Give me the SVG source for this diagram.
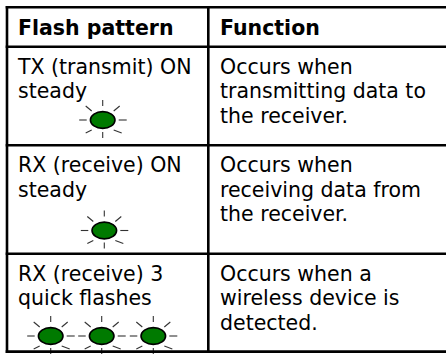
<svg xmlns="http://www.w3.org/2000/svg" xmlns:xlink="http://www.w3.org/1999/xlink" width="446" height="354" viewBox="0 0 446 354">
<style>
  .t { font-family: "DejaVu Sans", sans-serif; font-size: 20.5px; fill: #000; }
  .h { font-weight: bold; }
  .grid { stroke: #000; stroke-width: 2.6; fill: none; }
  .ray { stroke: #333; stroke-width: 1.1; }
  .led { fill: #007a00; stroke: #000; stroke-width: 1.6; }
</style>
<defs>
  <g id="ledsym">
    <line class="ray" x1="-23.5" y1="0" x2="-16" y2="0"/>
    <line class="ray" x1="16" y1="0" x2="24" y2="0"/>
    <line class="ray" x1="0" y1="-20" x2="0" y2="-14"/>
    <line class="ray" x1="0" y1="12" x2="0" y2="18"/>
    <line class="ray" x1="-17" y1="-14" x2="-11" y2="-9"/>
    <line class="ray" x1="11" y1="-9" x2="17" y2="-14"/>
    <line class="ray" x1="-17" y1="13" x2="-11" y2="10"/>
    <line class="ray" x1="11" y1="10" x2="19" y2="13"/>
    <ellipse class="led" cx="0" cy="0" rx="12.3" ry="8.4"/>
  </g>
</defs>
<rect width="446" height="354" fill="#fff"/>
<g id="header">
  <text class="t h" x="18" y="35">Flash pattern</text>
  <text class="t h" x="220" y="35">Function</text>
</g>
<g id="row1">
  <text class="t" x="18" y="73.7">TX (transmit) ON</text>
  <text class="t" x="18" y="98.2">steady</text>
  <use xlink:href="#ledsym" x="102.7" y="120"/>
  <text class="t" x="220" y="73.7">Occurs when</text>
  <text class="t" x="220" y="98.2">transmitting data to</text>
  <text class="t" x="220" y="122.7">the receiver.</text>
</g>
<g id="row2">
  <text class="t" x="18" y="172.3">RX (receive) ON</text>
  <text class="t" x="18" y="196.8">steady</text>
  <use xlink:href="#ledsym" x="104.3" y="230.5"/>
  <text class="t" x="220" y="172.3">Occurs when</text>
  <text class="t" x="220" y="196.8">receiving data from</text>
  <text class="t" x="220" y="221.3">the receiver.</text>
</g>
<g id="row3">
  <text class="t" x="18" y="280.7">RX (receive) 3</text>
  <text class="t" x="18" y="305.2">quick flashes</text>
  <use xlink:href="#ledsym" x="50.7" y="336"/>
  <use xlink:href="#ledsym" x="101.7" y="336"/>
  <use xlink:href="#ledsym" x="153.3" y="336"/>
  <text class="t" x="220" y="280.7">Occurs when a</text>
  <text class="t" x="220" y="305.2">wireless device is</text>
  <text class="t" x="220" y="329.7">detected.</text>
</g>
<g id="connectors">
  <line class="grid" x1="5.7" y1="7.2" x2="446" y2="7.2"/>
  <line class="grid" x1="5.7" y1="46.7" x2="446" y2="46.7"/>
  <line class="grid" x1="5.7" y1="145.3" x2="446" y2="145.3"/>
  <line class="grid" x1="5.7" y1="253.8" x2="446" y2="253.8"/>
  <line class="grid" x1="5.7" y1="351.6" x2="446" y2="351.6"/>
  <line class="grid" x1="7" y1="5.9" x2="7" y2="352.9"/>
  <line class="grid" x1="208.3" y1="5.9" x2="208.3" y2="352.9"/>
</g>
</svg>
